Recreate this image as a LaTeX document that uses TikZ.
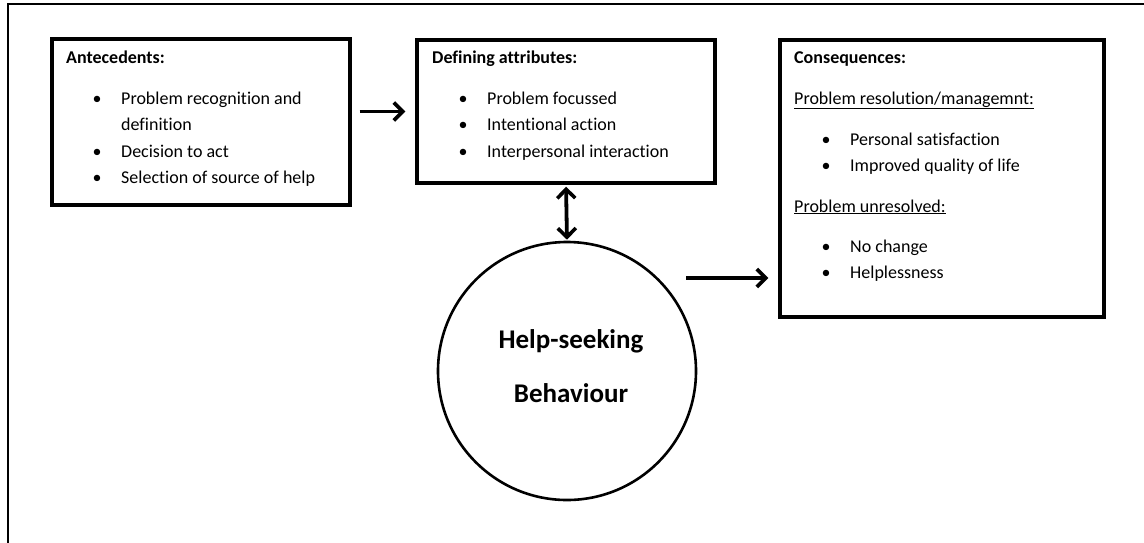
\documentclass[tikz,border=0pt]{standalone}
\usepackage{fontspec}
\setmainfont{Carlito}[Ligatures=NoCommon]
\usetikzlibrary{arrows.meta}

\begin{document}
\begin{tikzpicture}[x=1pt, y=-1pt,
  box/.style={draw, line width=3.4pt, inner sep=0pt},
  txt/.style={anchor=base west, inner sep=0pt, font=\fontsize{18}{22}\selectfont},
  hd/.style={txt, font=\fontsize{18}{22}\selectfont\bfseries},
  bul/.style={anchor=base, inner sep=0pt, font=\fontsize{18}{22}\selectfont},
  arr/.style={line width=3.8pt, -{Straight Barb[length=9pt, width=18pt, line width=3.6pt]}},
  darr/.style={line width=3.8pt, {Straight Barb[length=9pt, width=18pt, line width=3.6pt]}-{Straight Barb[length=9pt, width=18pt, line width=3.6pt]}}]
  \useasboundingbox (0,0) rectangle (1144,542);
  % outer frame, cut off right and bottom
  \draw[line width=2pt] (8,545) -- (8,4) -- (1148,4);

  % boxes
  \node[box, minimum width=298pt, minimum height=166pt] (ante) at (201,122) {};
  \node[box, minimum width=298pt, minimum height=143pt] (dfa) at (566,111.5) {};
  \node[box, minimum width=324pt, minimum height=277pt] (cons) at (942,178.5) {};
  \node[circle, draw, line width=2.6pt, minimum size=258pt, inner sep=0pt] (hsb) at (567,371) {};

  % antecedents
  \node[hd] (anteh) at (66,63) {Antecedents:};
  \node[bul] (ab1) at (97,104) {•};
  \node[txt] (at1) at (121,104) {Problem recognition and};
  \node[txt] (at1b) at (121,130) {definition};
  \node[bul] (ab2) at (97,157) {•};
  \node[txt] (at2) at (121,157) {Decision to act};
  \node[bul] (ab3) at (97,183) {•};
  \node[txt] (at3) at (121,183) {Selection of source of help};

  % defining attributes
  \node[hd] (dfah) at (432,63) {Defining attributes:};
  \node[bul] (db1) at (463,104) {•};
  \node[txt] (dt1) at (487,104) {Problem focussed};
  \node[bul] (db2) at (463,130) {•};
  \node[txt] (dt2) at (487,130) {Intentional action};
  \node[bul] (db3) at (463,157) {•};
  \node[txt] (dt3) at (487,157) {Interpersonal interaction};

  % consequences
  \node[hd] (consh) at (794,63) {Consequences:};
  \node[txt] (cs1) at (794,104) {\underline{Problem resolution/managemnt:}};
  \node[bul] (cb1) at (826,145) {•};
  \node[txt] (ct1) at (850,145) {Personal satisfaction};
  \node[bul] (cb2) at (826,171) {•};
  \node[txt] (ct2) at (850,171) {Improved quality of life};
  \node[txt] (cs2) at (794,212) {\underline{Problem unresolved:}};
  \node[bul] (cb3) at (826,252) {•};
  \node[txt] (ct3) at (850,252) {No change};
  \node[bul] (cb4) at (826,278) {•};
  \node[txt] (ct4) at (850,278) {Helplessness};

  % circle text
  \node[anchor=base, inner sep=0pt, font=\fontsize{27}{30}\selectfont\bfseries] (hs1) at (571,348) {Help-seeking};
  \node[anchor=base, inner sep=0pt, font=\fontsize{27}{30}\selectfont\bfseries] (hs2) at (571,402) {Behaviour};

  % arrows
  \draw[arr, shorten <=8pt, shorten >=10pt] (ante.east |- dfa.west) -- (dfa.west);
  \draw[darr, shorten <=2pt, shorten >=1pt] (dfa.south) -- (hsb.north);
  \coordinate (hout) at (686,278);
  \draw[arr, shorten >=10pt] (hout) -- (hout -| cons.west);
\end{tikzpicture}
\end{document}
